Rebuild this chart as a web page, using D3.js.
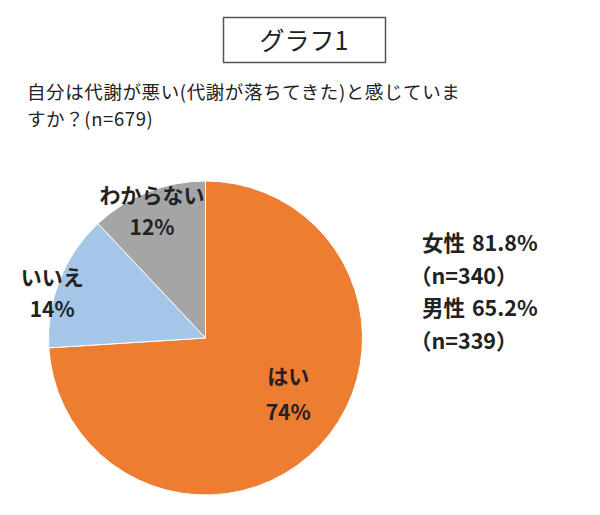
<!DOCTYPE html>
<html><head><meta charset="utf-8">
<script src="https://cdn.jsdelivr.net/npm/d3@7"></script>
<style>
body{margin:0;background:#fff;}
svg{display:block;font-family:"Noto Sans CJK JP","Noto Sans",sans-serif;}
</style></head>
<body>
<svg id="c" width="600" height="515"></svg>
<script>
const categories = ["はい", "いいえ", "わからない"];
const values = [74, 14, 12];
const colors = ["#ED7D31", "#A4C6E8", "#A5A5A5"];
const titleText = "グラフ1";
const subtitleLines = ["自分は代謝が悪い(代謝が落ちてきた)と感じていま", "すか？(n=679)"];
const sideNotes = ["女性 81.8%", "（n=340）", "男性 65.2%", "（n=339）"];

const svg = d3.select("#c");
// title box
svg.append("rect").attr("x",223.5).attr("y",17.5).attr("width",162).attr("height",45)
  .attr("fill","#fff").attr("stroke","#555").attr("stroke-width",1.5);
svg.append("text").attr("x",304).attr("y",50).attr("text-anchor","middle")
  .attr("font-size",25).attr("fill","#222").text(titleText);

svg.append("g").selectAll("text").data(subtitleLines).join("text")
  .attr("x",27).attr("y",(d,i)=>99+i*27).attr("font-size",18.5).attr("letter-spacing",0.6)
  .attr("fill","#222").text(d=>d);

const cx=205.5, cy=338, r=157;
const pie = d3.pie().sort(null).value(d=>d)(values);
const arc = d3.arc().innerRadius(0).outerRadius(r);
const g = svg.append("g").attr("transform",`translate(${cx},${cy})`);
g.selectAll("path").data(pie).join("path")
  .attr("d",arc).attr("fill",(d,i)=>colors[i]).attr("stroke","#fff").attr("stroke-width",1);

const labelArcs = [
  d3.arc().innerRadius(r*0.6).outerRadius(r*0.6),
  d3.arc().innerRadius(r*1.05).outerRadius(r*1.05),
  d3.arc().innerRadius(r*0.95).outerRadius(r*0.95)
];
const labelAdj = [[14,-18],[0,8],[1.5,4]];
const lineGap = [36, 32, 32];
pie.forEach((p,i)=>{
  const [x,y] = labelArcs[i].centroid(p);
  const t = g.append("text").attr("text-anchor","middle").attr("font-size",21)
    .attr("font-weight","bold").attr("fill","#222");
  t.append("tspan").attr("x",x+labelAdj[i][0]).attr("y",y+labelAdj[i][1]).text(categories[i]);
  t.append("tspan").attr("x",x+labelAdj[i][0]).attr("y",y+labelAdj[i][1]+lineGap[i]).text(values[i]+"%");
});

svg.append("g").selectAll("text").data(sideNotes).join("text")
  .attr("x",(d,i)=> i%2 ? 410 : 422).attr("y",(d,i)=>251+i*32.5)
  .attr("font-size",21.5).attr("font-weight","bold").attr("word-spacing",2)
  .attr("fill","#222").text(d=>d);
</script>
</body></html>
